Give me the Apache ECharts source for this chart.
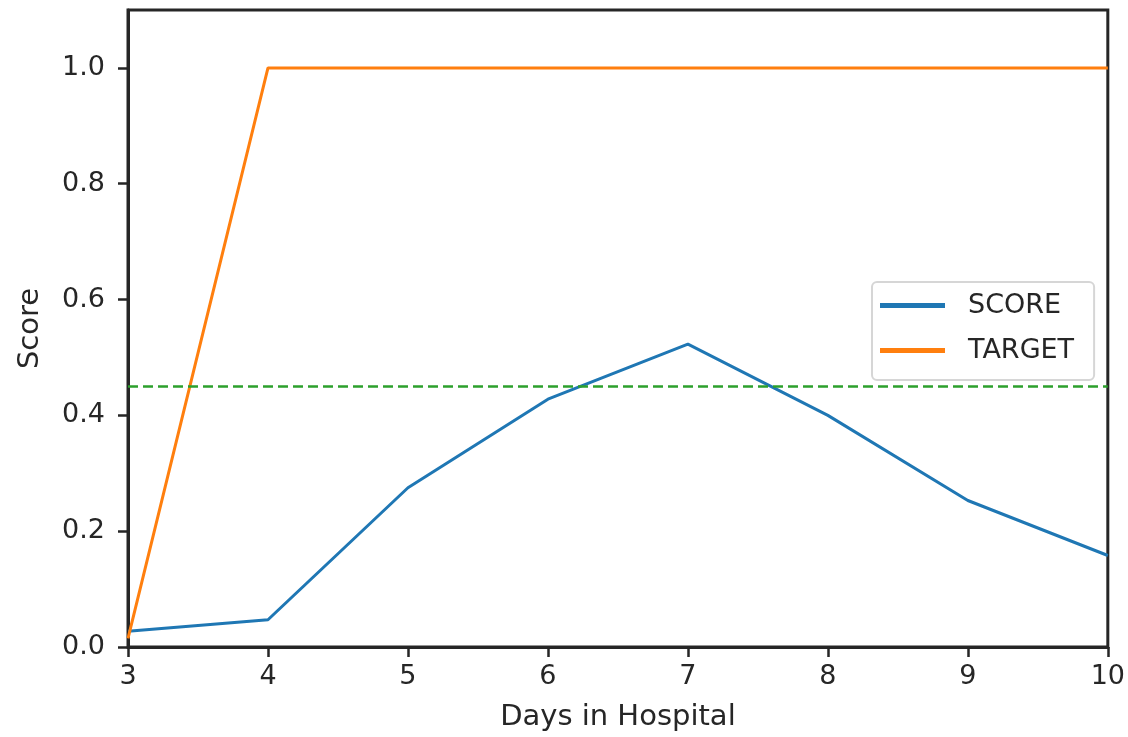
<!DOCTYPE html>
<html>
<head>
<meta charset="utf-8">
<script src="https://cdn.jsdelivr.net/npm/echarts@6/dist/echarts.min.js"></script>
<style>
  html, body { margin: 0; padding: 0; background: #fff; }
  #score-chart { width: 1128px; height: 737px; }
</style>
</head>
<body>
<div id="score-chart"></div>
<script>
// days on the x axis
const days = [3, 4, 5, 6, 7, 8, 9, 10];
const scoreValues = [0.027, 0.047, 0.275, 0.428, 0.523, 0.4, 0.253, 0.158];
const targetValues = [0.015, 1, 1, 1, 1, 1, 1, 1];
const threshold = 0.45;
const yTicks = [0, 0.2, 0.4, 0.6, 0.8, 1.0];

const ink = '#262626';
const font = 'DejaVu Sans';

const chart = echarts.init(document.getElementById('score-chart'));

const axisCommon = {
  type: 'value',
  nameLocation: 'middle',
  nameTextStyle: { color: ink, fontFamily: font, fontSize: 29 },
  axisLine: { show: true, onZero: false, lineStyle: { color: ink, width: 3 } },
  axisTick: { show: true, length: 10, lineStyle: { color: ink, width: 2.5 } },
  splitLine: { show: false },
};

chart.setOption({
  animation: false,
  grid: {
    left: 128,
    right: 18,
    top: 10,
    bottom: 88,
    show: true,
    borderColor: ink,
    borderWidth: 3,
  },
  legend: {
    orient: 'vertical',
    left: 872,
    top: 282,
    icon: 'rect',
    itemWidth: 65,
    itemHeight: 5,
    itemGap: 18,
    padding: [10, 20, 16, 8],
    borderColor: '#d6d6d6',
    borderWidth: 2,
    borderRadius: 5,
    backgroundColor: 'rgba(255,255,255,0.8)',
    textStyle: {
      color: ink,
      fontFamily: font,
      fontSize: 27,
      lineHeight: 26,
      padding: [0, 0, 0, 18],
    },
    data: ['SCORE', 'TARGET'],
  },
  xAxis: {
    ...axisCommon,
    name: 'Days in Hospital',
    nameGap: 56,
    min: 3,
    max: 10,
    interval: 1,
    axisLabel: { color: ink, fontFamily: font, fontSize: 27, margin: 16 },
  },
  yAxis: {
    ...axisCommon,
    name: 'Score',
    nameGap: 83,
    min: 0,
    max: 1.1,
    axisTick: { ...axisCommon.axisTick, customValues: yTicks },
    axisLabel: {
      color: ink,
      fontFamily: font,
      fontSize: 27,
      margin: 23,
      customValues: yTicks,
      formatter: (v) => v.toFixed(1),
    },
  },
  series: [
    {
      name: 'SCORE',
      type: 'line',
      symbol: 'none',
      color: '#1f77b4',
      lineStyle: { width: 3 },
      data: days.map((d, i) => [d, scoreValues[i]]),
      markLine: {
        silent: true,
        symbol: 'none',
        label: { show: false },
        lineStyle: { color: '#2ca02c', type: [10, 5], width: 2.5 },
        data: [{ yAxis: threshold }],
      },
    },
    {
      name: 'TARGET',
      type: 'line',
      symbol: 'none',
      color: '#ff7f0e',
      lineStyle: { width: 3 },
      data: days.map((d, i) => [d, targetValues[i]]),
    },
  ],
});

window.addEventListener('resize', function () {
  chart.resize();
});
</script>
</body>
</html>
